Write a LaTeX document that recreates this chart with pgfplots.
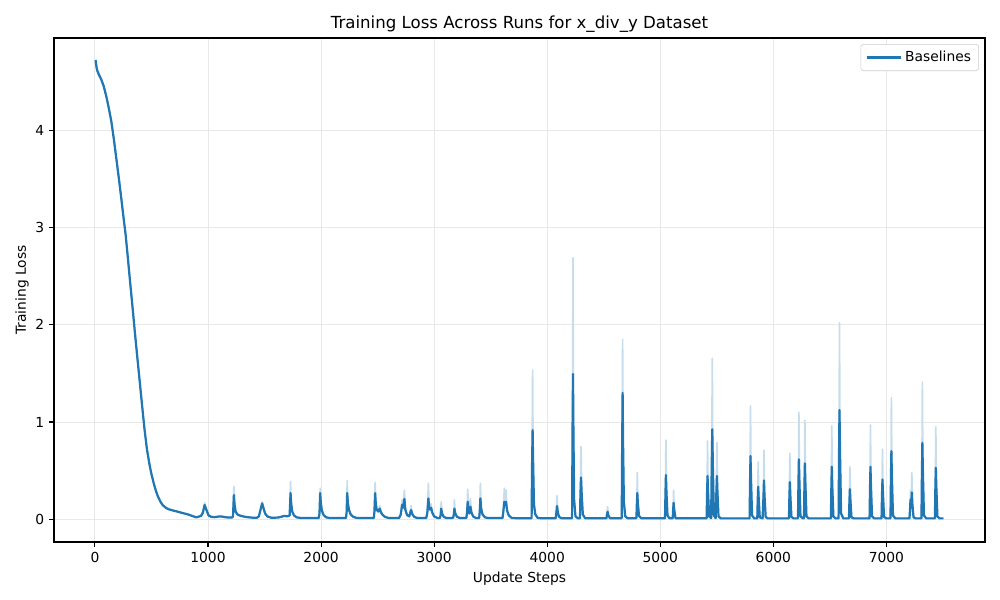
\documentclass[border=0pt]{standalone}
\usepackage{fontspec}
\setmainfont{DejaVu Sans}
\usepackage{pgfplots}
\usepackage{pgfplotstable}
\pgfplotsset{compat=1.18}
\definecolor{mplblue}{HTML}{1F77B4}
\colorlet{bandblue}{mplblue!25!white}
\pgfplotstableread{
step mean upper
6 4.72 4.72
15 4.64 4.65
21 4.61 4.62
35 4.57 4.58
56 4.52 4.53
78 4.45 4.46
100 4.35 4.36
122 4.23 4.24
145 4.09 4.10
167 3.91 3.92
189 3.71 3.72
211 3.51 3.52
233 3.30 3.31
252 3.11 3.12
271 2.93 2.94
291 2.69 2.70
311 2.44 2.45
331 2.20 2.21
351 1.95 1.96
371 1.71 1.72
395 1.43 1.44
417 1.17 1.18
439 0.92 0.93
460 0.72 0.73
480 0.58 0.59
498 0.475 0.48
520 0.37 0.375
540 0.29 0.295
557 0.235 0.24
580 0.18 0.185
600 0.145 0.15
631 0.115 0.12
660 0.100 0.105
700 0.088 0.09
734 0.078 0.08
780 0.063 0.065
822 0.051 0.053
860 0.035 0.037
896 0.020 0.022
920 0.028 0.03
940 0.037 0.04
955 0.07 0.08
970 0.147 0.17
985 0.10 0.11
1005 0.04 0.045
1030 0.025 0.027
1060 0.022 0.024
1090 0.028 0.03
1117 0.030 0.032
1150 0.022 0.024
1185 0.018 0.02
1215 0.02 0.022
1221 0.03 0.035
1229 0.25 0.34
1235 0.15 0.17
1244 0.08 0.09
1260 0.05 0.055
1290 0.035 0.04
1330 0.025 0.028
1380 0.018 0.02
1430 0.015 0.016
1450 0.03 0.032
1465 0.10 0.11
1479 0.164 0.18
1492 0.11 0.12
1505 0.06 0.065
1525 0.03 0.032
1560 0.016 0.017
1620 0.018 0.02
1660 0.03 0.032
1677 0.035 0.038
1700 0.03 0.033
1722 0.04 0.045
1730 0.27 0.39
1736 0.16 0.18
1745 0.08 0.09
1760 0.04 0.045
1785 0.02 0.022
1820 0.014 0.015
1980 0.014 0.015
1986 0.06 0.07
1992 0.27 0.32
1998 0.17 0.19
2007 0.09 0.10
2022 0.045 0.05
2045 0.02 0.022
2080 0.013 0.014
2220 0.013 0.014
2226 0.07 0.08
2231 0.27 0.40
2237 0.17 0.19
2246 0.10 0.11
2262 0.05 0.055
2285 0.025 0.027
2320 0.013 0.014
2466 0.013 0.014
2472 0.08 0.09
2478 0.27 0.38
2484 0.16 0.18
2492 0.10 0.11
2505 0.08 0.09
2519 0.11 0.14
2530 0.07 0.08
2545 0.045 0.05
2565 0.025 0.027
2600 0.013 0.014
2690 0.013 0.014
2705 0.05 0.06
2717 0.15 0.20
2726 0.12 0.15
2737 0.21 0.30
2745 0.10 0.12
2760 0.045 0.05
2780 0.03 0.035
2796 0.095 0.14
2808 0.05 0.06
2825 0.025 0.027
2850 0.013 0.014
2930 0.013 0.014
2940 0.07 0.08
2949 0.215 0.37
2956 0.12 0.15
2964 0.10 0.12
2973 0.12 0.16
2983 0.07 0.08
3000 0.03 0.033
3030 0.013 0.014
3052 0.015 0.016
3058 0.05 0.06
3062 0.11 0.18
3070 0.06 0.07
3085 0.025 0.027
3110 0.013 0.014
3168 0.015 0.016
3174 0.05 0.06
3179 0.11 0.20
3187 0.06 0.07
3202 0.025 0.027
3230 0.013 0.014
3285 0.014 0.015
3291 0.07 0.09
3297 0.18 0.31
3304 0.09 0.11
3312 0.06 0.07
3321 0.13 0.21
3330 0.07 0.08
3345 0.03 0.033
3370 0.013 0.014
3398 0.014 0.015
3403 0.07 0.09
3409 0.215 0.37
3416 0.11 0.13
3428 0.05 0.055
3450 0.02 0.022
3480 0.013 0.014
3605 0.013 0.014
3612 0.08 0.10
3621 0.18 0.32
3628 0.16 0.25
3636 0.18 0.30
3645 0.09 0.11
3660 0.04 0.045
3685 0.015 0.016
3720 0.012 0.013
3862 0.012 0.013
3866 0.55 0.60
3871 0.918 1.535
3876 0.55 0.60
3883 0.15 0.17
3895 0.05 0.055
3915 0.015 0.016
3940 0.012 0.013
4075 0.012 0.013
4081 0.07 0.09
4087 0.137 0.243
4094 0.07 0.08
4105 0.025 0.027
4125 0.012 0.013
4220 0.012 0.013
4224 0.90 1.00
4228 1.493 2.69
4232 0.90 1.00
4238 0.20 0.22
4250 0.03 0.033
4270 0.012 0.013
4290 0.012 0.013
4294 0.26 0.30
4299 0.43 0.75
4305 0.26 0.30
4315 0.05 0.055
4335 0.012 0.013
4524 0.012 0.013
4529 0.05 0.07
4534 0.078 0.13
4541 0.04 0.045
4555 0.012 0.013
4659 0.012 0.013
4663 0.78 0.85
4667 1.30 1.85
4671 0.78 0.85
4678 0.18 0.20
4690 0.03 0.033
4710 0.012 0.013
4789 0.012 0.013
4793 0.16 0.19
4797 0.27 0.48
4802 0.16 0.19
4812 0.035 0.04
4830 0.012 0.013
5042 0.012 0.013
5046 0.27 0.32
5050 0.455 0.815
5055 0.27 0.32
5064 0.04 0.045
5080 0.012 0.013
5110 0.012 0.013
5114 0.10 0.12
5118 0.17 0.30
5123 0.10 0.12
5135 0.012 0.013
5410 0.010 0.011
5414 0.27 0.32
5418 0.445 0.805
5423 0.27 0.32
5432 0.03 0.035
5450 0.012 0.013
5455 0.55 0.60
5460 0.925 1.655
5465 0.55 0.60
5474 0.04 0.045
5490 0.012 0.013
5496 0.27 0.32
5501 0.445 0.79
5506 0.27 0.32
5515 0.03 0.035
5535 0.010 0.011
5790 0.010 0.011
5794 0.39 0.44
5798 0.65 1.165
5803 0.39 0.44
5812 0.04 0.045
5830 0.010 0.011
5858 0.010 0.011
5862 0.20 0.25
5866 0.335 0.59
5871 0.20 0.25
5880 0.02 0.022
5905 0.010 0.011
5913 0.24 0.29
5917 0.40 0.71
5922 0.24 0.29
5932 0.025 0.028
5950 0.010 0.011
6138 0.010 0.011
6142 0.23 0.28
6146 0.383 0.68
6151 0.23 0.28
6160 0.025 0.028
6178 0.010 0.011
6218 0.010 0.011
6222 0.37 0.42
6226 0.617 1.10
6231 0.37 0.42
6240 0.03 0.033
6262 0.010 0.011
6271 0.010 0.011
6275 0.35 0.40
6279 0.575 1.02
6284 0.35 0.40
6293 0.03 0.033
6312 0.010 0.011
6509 0.010 0.011
6513 0.32 0.37
6517 0.54 0.96
6522 0.32 0.37
6531 0.03 0.033
6550 0.010 0.011
6577 0.010 0.011
6581 0.67 0.72
6585 1.123 2.02
6590 0.67 0.72
6599 0.06 0.07
6618 0.010 0.011
6669 0.010 0.011
6673 0.19 0.24
6677 0.31 0.54
6682 0.19 0.24
6691 0.02 0.022
6710 0.010 0.011
6851 0.010 0.011
6855 0.32 0.37
6859 0.54 0.97
6864 0.32 0.37
6873 0.03 0.033
6892 0.010 0.011
6957 0.010 0.011
6961 0.25 0.30
6965 0.41 0.72
6970 0.25 0.30
6979 0.025 0.028
6998 0.010 0.011
7036 0.010 0.011
7040 0.42 0.47
7044 0.70 1.25
7049 0.42 0.47
7058 0.04 0.045
7078 0.010 0.011
7204 0.010 0.011
7209 0.10 0.12
7213 0.20 0.30
7218 0.12 0.14
7225 0.277 0.48
7230 0.15 0.17
7240 0.02 0.022
7258 0.010 0.011
7310 0.010 0.011
7314 0.47 0.52
7318 0.787 1.41
7323 0.47 0.52
7332 0.04 0.045
7352 0.010 0.011
7429 0.010 0.011
7433 0.32 0.37
7437 0.53 0.95
7442 0.32 0.37
7451 0.03 0.033
7470 0.010 0.011
7504 0.010 0.011
}\losstable
\begin{document}
\begin{tikzpicture}
\begin{axis}[
  at={(0,0)}, anchor=south west,
  scale only axis, width=9.31in, height=5.04in,
  xmin=-362, xmax=7872, ymin=-0.233, ymax=4.947,
  xtick={0,1000,2000,3000,4000,5000,6000,7000},
  ytick={0,1,2,3,4},
  scaled x ticks=false,
  xticklabel style={/pgf/number format/1000 sep={}},
  /pgf/number format/assume math mode=true,
  tick label style={font=\fontsize{10}{12}\selectfont},
  label style={font=\fontsize{10}{12}\selectfont},
  title style={font=\fontsize{12}{14}\selectfont, yshift=-5.5pt},
  title={Training Loss Across Runs for x\_div\_y Dataset},
  xlabel={Update Steps}, ylabel={Training Loss},
  xlabel style={yshift=0pt},
  ylabel style={yshift=-2pt},
  grid=major,
  major grid style={line width=0.7pt, color=black!9},
  axis line style={line width=0.8pt},
  tick style={line width=0.8pt, black},
  tick align=outside, major tick length=3.5pt,
  xtick pos=left, ytick pos=left,
  legend style={at={(0.9935,0.988)}, anchor=north east, draw=black!20, rounded corners=2pt,
    font=\fontsize{10}{12}\selectfont, inner xsep=3.5pt, inner ysep=3pt, row sep=0pt},
  legend cell align=left,
  legend image code/.code={\draw[#1, line width=1.6pt] (0pt,0pt) -- (20pt,0pt); \path (0pt,0pt) -- (25pt,0pt);},
]
\addplot[draw=none, fill=none, forget plot, stack plots=y] table[x=step, y=mean] {\losstable};
\addplot[fill=bandblue, draw=bandblue, line width=1.2pt, line join=round, forget plot, stack plots=y] table[x=step, y expr=\thisrow{upper}-\thisrow{mean}] {\losstable} \closedcycle;
\addplot[mplblue, line width=1.6pt, line join=round] table[x=step, y=mean] {\losstable};
\addlegendentry{Baselines}
\end{axis}
\path[use as bounding box] (-0.54in,-0.58in) rectangle (9.46in,5.42in);
\end{tikzpicture}
\end{document}
